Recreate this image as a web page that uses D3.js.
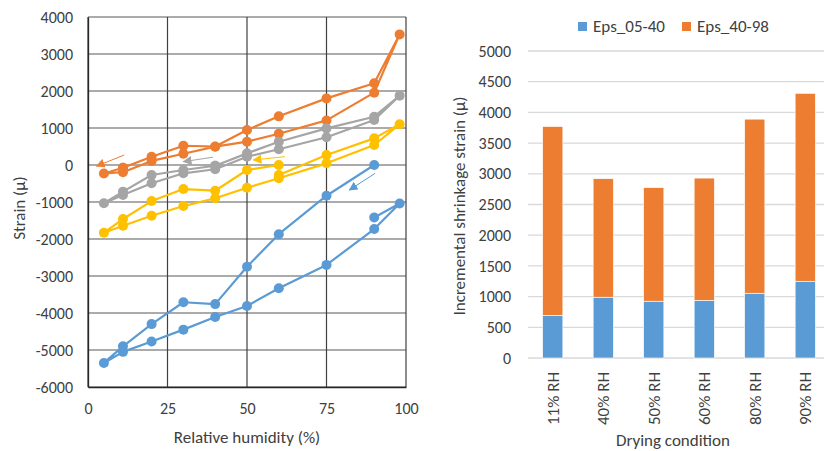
<!DOCTYPE html>
<html>
<head>
<meta charset="utf-8">
<script src="https://cdn.jsdelivr.net/npm/d3@7"></script>
<style>
  body { margin: 0; background: #fff; }
  text { font-family: Carlito, Lato, "Liberation Sans", sans-serif; fill: #404040; }
</style>
</head>
<body>
<div id="chart"></div>
<script>
// ---- left chart: strain vs RH (each series is one loop, in plotted order)
const blueRH      = [90, 75, 60, 50, 40, 30, 20, 11, 5, 11, 20, 30, 40, 50, 60, 75, 90, 98, 90];
const blueStrain  = [0, -830, -1870, -2750, -3760, -3710, -4300, -4900, -5350, -5050, -4770, -4450, -4110, -3810, -3330, -2700, -1730, -1040, -1420];
const orangeRH     = [11, 5, 11, 20, 30, 40, 50, 60, 75, 90, 98, 90, 75, 60, 50, 40, 30, 20, 11];
const orangeStrain = [-75, -230, -195, 110, 305, 495, 630, 845, 1205, 1955, 3530, 2210, 1800, 1315, 945, 500, 520, 225, -75];
const grayRH      = [40, 30, 20, 11, 5, 11, 20, 30, 40, 50, 60, 75, 90, 98, 90, 75, 60, 50, 40];
const grayStrain  = [-20, -135, -270, -720, -1035, -810, -495, -225, -115, 225, 425, 750, 1215, 1875, 1305, 990, 630, 315, -20];
const yellowRH     = [60, 50, 40, 30, 20, 11, 5, 11, 20, 30, 40, 50, 60, 75, 90, 98, 90, 75, 60];
const yellowStrain = [0, -135, -695, -650, -975, -1460, -1830, -1640, -1370, -1110, -900, -615, -360, 45, 540, 1100, 720, 270, -270];

// small direction arrows: [fromRH, fromStrain, toRH, toStrain]
const arrowOrange = [11.4, 270, 2.7, -30];
const arrowGray   = [39.3, 210, 30, 90];
const arrowYellow = [61.9, 225, 52, 135];
const arrowBlue   = [90.3, -225, 82.2, -675];

const xTicksLeft = [0, 25, 50, 75, 100];
const yTicksLeft = [-6000, -5000, -4000, -3000, -2000, -1000, 0, 1000, 2000, 3000, 4000];

// ---- right chart: stacked bars
const conditions = ["11% RH", "40% RH", "50% RH", "60% RH", "80% RH", "90% RH"];
const eps0540 = [695, 990, 925, 940, 1055, 1250];
const eps4098 = [3075, 1930, 1850, 1990, 2835, 3060];
const yTicksRight = [0, 500, 1000, 1500, 2000, 2500, 3000, 3500, 4000, 4500, 5000];

const colors = { blue: "#5B9BD5", orange: "#ED7D31", gray: "#A5A5A5", yellow: "#FFC000" };
const fs = 16;      // tick labels
const fsTitle = 17; // axis titles, legend

const svg = d3.select("#chart").append("svg")
  .attr("width", 824).attr("height", 451);

// ================= left chart =================
const x = d3.scaleLinear().domain([0, 100]).range([88, 406]);
const y = d3.scaleLinear().domain([-6000, 4000]).range([387, 17]);

const left = svg.append("g");

// grid
left.append("g").selectAll("line").data(yTicksLeft).enter().append("line")
  .attr("x1", x(0)).attr("x2", x(100))
  .attr("y1", d => y(d)).attr("y2", d => y(d))
  .attr("stroke", "#595959").attr("stroke-width", 1.2);
left.append("g").selectAll("line").data(xTicksLeft).enter().append("line")
  .attr("x1", d => x(d)).attr("x2", d => x(d))
  .attr("y1", y(-6000)).attr("y2", y(4000))
  .attr("stroke", "#404040").attr("stroke-width", 1.2);

// axes (labels only, lines come from the grid)
const xAxisL = left.append("g")
  .attr("transform", `translate(0,${y(-6000)})`)
  .call(d3.axisBottom(x).tickValues(xTicksLeft).tickSize(0).tickPadding(16));
const yAxisL = left.append("g")
  .attr("transform", `translate(${x(0)},0)`)
  .call(d3.axisLeft(y).tickValues(yTicksLeft).tickSize(0).tickPadding(15).tickFormat(d => String(d)));
[xAxisL, yAxisL].forEach(a => {
  a.select(".domain").attr("stroke", "#262626").attr("stroke-width", 1.3);
  a.selectAll("text").attr("font-size", fs).attr("fill", "#404040")
    .style("font-family", "Carlito, Lato, sans-serif");
});

left.append("text").attr("x", 247).attr("y", 443).attr("text-anchor", "middle")
  .attr("font-size", fsTitle).text("Relative humidity (%)");
left.append("text").attr("transform", "translate(25,208) rotate(-90)")
  .attr("text-anchor", "middle").attr("font-size", fsTitle).text("Strain (μ)");

const series = [
  { rh: blueRH, v: blueStrain, c: colors.blue },
  { rh: orangeRH, v: orangeStrain, c: colors.orange },
  { rh: grayRH, v: grayStrain, c: colors.gray },
  { rh: yellowRH, v: yellowStrain, c: colors.yellow }
];
const line = d3.line().x(d => x(d[0])).y(d => y(d[1]));
series.forEach(s => {
  const pts = s.rh.map((r, i) => [r, s.v[i]]);
  const g = left.append("g");
  g.append("path").datum(pts)
    .attr("fill", "none").attr("stroke", s.c).attr("stroke-width", 2.2)
    .attr("stroke-linejoin", "round").attr("d", line);
  g.selectAll("circle").data(pts).enter().append("circle")
    .attr("cx", d => x(d[0])).attr("cy", d => y(d[1])).attr("r", 5)
    .attr("fill", s.c);
});

// arrows
const defs = svg.append("defs");
const arrows = [
  { a: arrowOrange, c: colors.orange, id: "ao" },
  { a: arrowGray, c: colors.gray, id: "ag" },
  { a: arrowYellow, c: colors.yellow, id: "ay" },
  { a: arrowBlue, c: colors.blue, id: "ab" }
];
arrows.forEach(d => {
  defs.append("marker").attr("id", d.id)
    .attr("viewBox", "0 0 10 10").attr("refX", 9).attr("refY", 5)
    .attr("markerWidth", 9).attr("markerHeight", 9)
    .attr("markerUnits", "userSpaceOnUse").attr("orient", "auto")
    .append("path").attr("d", "M0,0 L10,5 L0,10 Z").attr("fill", d.c);
  left.append("line")
    .attr("x1", x(d.a[0])).attr("y1", y(d.a[1]))
    .attr("x2", x(d.a[2])).attr("y2", y(d.a[3]))
    .attr("stroke", d.c).attr("stroke-width", 1)
    .attr("marker-end", `url(#${d.id})`);
});

// ================= right chart =================
const xb = d3.scaleBand().domain(conditions).range([527.5, 830.5])
  .paddingInner(0.6).paddingOuter(0.3);
const yb = d3.scaleLinear().domain([0, 5000]).range([358, 51]);

const right = svg.append("g");
right.append("g").selectAll("line").data(yTicksRight).enter().append("line")
  .attr("x1", 528).attr("x2", 824)
  .attr("y1", d => yb(d)).attr("y2", d => yb(d))
  .attr("stroke", "#d9d9d9").attr("stroke-width", 1.3);

const yAxisR = right.append("g").attr("transform", "translate(528,0)")
  .call(d3.axisLeft(yb).tickValues(yTicksRight).tickSize(0).tickPadding(17).tickFormat(d => String(d)));
yAxisR.select(".domain").remove();
yAxisR.selectAll("text").attr("font-size", fs).attr("fill", "#404040")
  .style("font-family", "Carlito, Lato, sans-serif");

const stacked = d3.stack().keys(["a", "b"])(conditions.map((c, i) => ({ cat: c, a: eps0540[i], b: eps4098[i] })));
const barColors = [colors.blue, colors.orange];
stacked.forEach((layer, li) => {
  right.append("g").selectAll("rect").data(layer).enter().append("rect")
    .attr("x", d => xb(d.data.cat)).attr("width", xb.bandwidth())
    .attr("y", d => yb(d[1])).attr("height", d => yb(d[0]) - yb(d[1]))
    .attr("fill", barColors[li]).attr("stroke", "#fff").attr("stroke-width", 0.6);
});

// category labels, rotated
right.append("g").selectAll("text").data(conditions).enter().append("text")
  .attr("transform", d => `translate(${xb(d) + xb.bandwidth() / 2 + 6},372) rotate(-90)`)
  .attr("text-anchor", "end").attr("font-size", fsTitle).text(d => d);

right.append("text").attr("x", 673).attr("y", 446).attr("text-anchor", "middle")
  .attr("font-size", fsTitle).text("Drying condition");
right.append("text").attr("transform", "translate(465,206) rotate(-90)")
  .attr("text-anchor", "middle").attr("font-size", fsTitle).text("Incremental shrinkage strain (μ)");

// legend
const legendNames = ["Eps_05-40", "Eps_40-98"];
const legendX = [578, 682];
legendNames.forEach((n, i) => {
  right.append("rect").attr("x", legendX[i]).attr("y", 22).attr("width", 9).attr("height", 9)
    .attr("fill", barColors[i]);
  right.append("text").attr("x", legendX[i] + 15).attr("y", 32).attr("font-size", fsTitle).text(n);
});
</script>
</body>
</html>
